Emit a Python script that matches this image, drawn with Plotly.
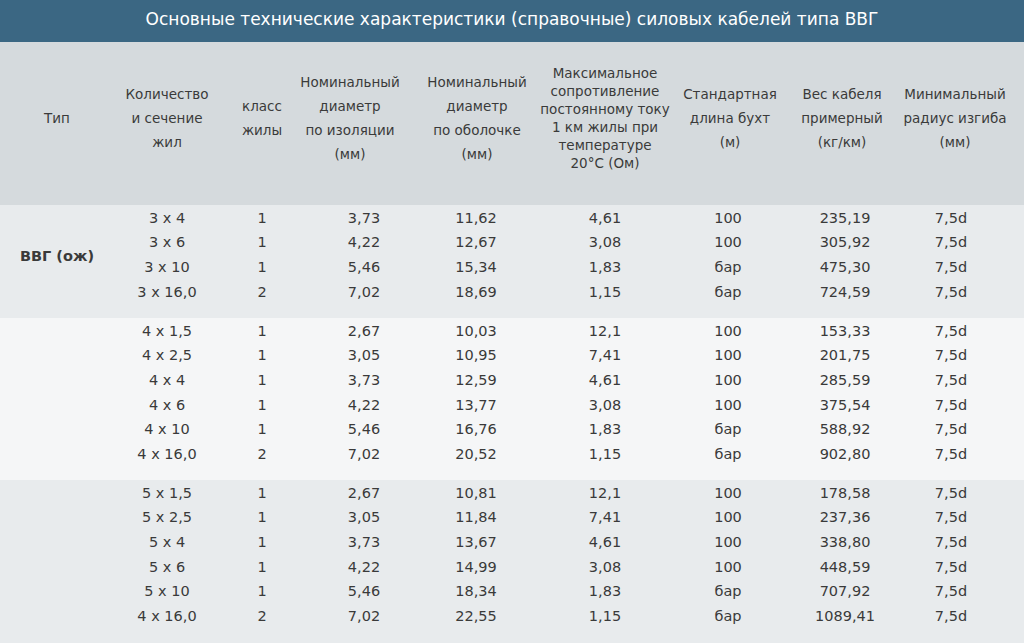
import plotly.graph_objects as go

title = "Основные технические характеристики (справочные) силовых кабелей типа ВВГ"
headers = [
    ["Тип"],
    ["Количество", "и сечение", "жил"],
    ["класс", "жилы"],
    ["Номинальный", "диаметр", "по изоляции", "(мм)"],
    ["Номинальный", "диаметр", "по оболочке", "(мм)"],
    ["Максимальное", "сопротивление", "постоянному току", "1 км жилы при", "температуре", "20°С (Ом)"],
    ["Стандартная", "длина бухт", "(м)"],
    ["Вес кабеля", "примерный", "(кг/км)"],
    ["Минимальный", "радиус изгиба", "(мм)"],
]
group_label = "ВВГ (ож)"
sections = ["3 x 4", "3 x 6", "3 x 10", "3 x 16,0",
            "4 x 1,5", "4 x 2,5", "4 x 4", "4 x 6", "4 x 10", "4 x 16,0",
            "5 x 1,5", "5 x 2,5", "5 x 4", "5 x 6", "5 x 10", "4 x 16,0"]
wire_class = ["1", "1", "1", "2", "1", "1", "1", "1", "1", "2", "1", "1", "1", "1", "1", "2"]
d_insul = ["3,73", "4,22", "5,46", "7,02", "2,67", "3,05", "3,73", "4,22", "5,46", "7,02",
           "2,67", "3,05", "3,73", "4,22", "5,46", "7,02"]
d_sheath = ["11,62", "12,67", "15,34", "18,69", "10,03", "10,95", "12,59", "13,77", "16,76", "20,52",
            "10,81", "11,84", "13,67", "14,99", "18,34", "22,55"]
resist = ["4,61", "3,08", "1,83", "1,15", "12,1", "7,41", "4,61", "3,08", "1,83", "1,15",
          "12,1", "7,41", "4,61", "3,08", "1,83", "1,15"]
length = ["100", "100", "бар", "бар", "100", "100", "100", "100", "бар", "бар",
          "100", "100", "100", "100", "бар", "бар"]
weight = ["235,19", "305,92", "475,30", "724,59", "153,33", "201,75", "285,59", "375,54", "588,92", "902,80",
          "178,58", "237,36", "338,80", "448,59", "707,92", "1089,41"]
radius = ["7,5d"] * 16
group_sizes = [4, 6, 6]

W, H = 1024, 643
col_x = [57, 167, 262, 350, 477, 605, 730, 842, 955]
val_x = [57, 167, 262, 364, 476, 605, 728, 845, 951]
TITLE_H, HEAD_B = 42, 205
group_bounds = [(205, 318), (318, 480), (480, 643)]
group_bg = ["#e8ebed", "#f5f6f7", "#e8ebed"]
row_step = 24.7
FONT = "DejaVu Sans"
TXT = "#3a3a3a"

fig = go.Figure()
shapes = [
    dict(type="rect", x0=0, x1=W, y0=0, y1=TITLE_H, fillcolor="#3b6783", line_width=0, layer="below"),
    dict(type="rect", x0=0, x1=W, y0=TITLE_H, y1=HEAD_B, fillcolor="#d5dadd", line_width=0, layer="below"),
]
for (a, b), c in zip(group_bounds, group_bg):
    shapes.append(dict(type="rect", x0=0, x1=W, y0=a, y1=b, fillcolor=c, line_width=0, layer="below"))

hx, hy, ht = [], [], []
head_mid = 120
for cx, lines in zip(col_x, headers):
    sp = 18 if len(lines) > 4 else 24
    n = len(lines)
    for i, t in enumerate(lines):
        hx.append(cx); hy.append(head_mid - (n - 1) * sp / 2 + i * sp); ht.append(t)
fig.add_trace(go.Scatter(x=hx, y=hy, text=ht, mode="text", textposition="middle center",
                         textfont=dict(family=FONT, size=13.5, color=TXT), hoverinfo="skip"))

cols = [sections, wire_class, d_insul, d_sheath, resist, length, weight, radius]
bx, by, bt = [], [], []
r = 0
for (a, b), n in zip(group_bounds, group_sizes):
    for k in range(n):
        y = a + 14 + k * row_step
        for ci, col in enumerate(cols):
            bx.append(val_x[ci + 1]); by.append(y); bt.append(col[r])
        r += 1
fig.add_trace(go.Scatter(x=bx, y=by, text=bt, mode="text", textposition="middle center",
                         textfont=dict(family=FONT, size=14.5, color=TXT), hoverinfo="skip"))
fig.add_trace(go.Scatter(x=[57], y=[257], text=["<b>" + group_label + "</b>"], mode="text",
                         textfont=dict(family=FONT, size=14.5, color=TXT), hoverinfo="skip"))
fig.add_trace(go.Scatter(x=[W / 2], y=[TITLE_H / 2], text=[title], mode="text",
                         textfont=dict(family=FONT, size=17, color="white"), hoverinfo="skip"))

fig.update_layout(width=W, height=H, margin=dict(l=0, r=0, t=0, b=0), showlegend=False,
                  shapes=shapes, plot_bgcolor="white", paper_bgcolor="white",
                  xaxis=dict(range=[0, W], visible=False, fixedrange=True),
                  yaxis=dict(range=[H, 0], visible=False, fixedrange=True))
fig.write_html("out.html", config={"displayModeBar": False})

with open("out.html", encoding="utf-8") as f:
    html = f.read()
html = html.replace("<body>", '<body style="margin:0;overflow:hidden">', 1)
with open("out.html", "w", encoding="utf-8") as f:
    f.write(html)
